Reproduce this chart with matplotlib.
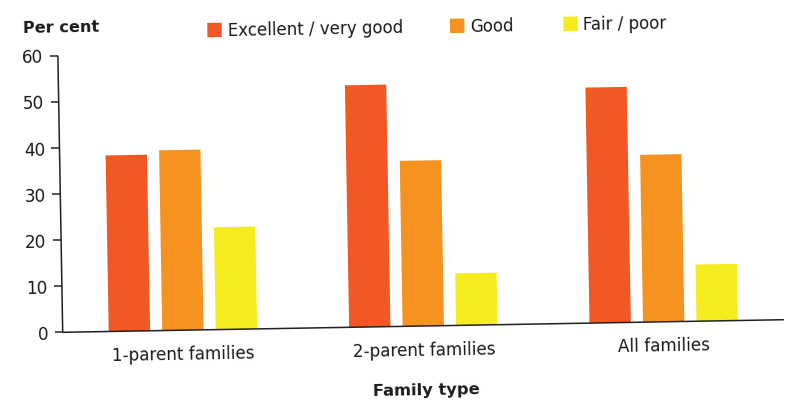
import matplotlib
matplotlib.use("Agg")
import matplotlib.pyplot as plt
from matplotlib.transforms import Affine2D
from matplotlib.patches import Rectangle
from matplotlib.lines import TICKLEFT
import numpy as np

# ---- data -------------------------------------------------------------
categories = ["1-parent families", "2-parent families", "All families"]
series_names = ["Excellent / very good", "Good", "Fair / poor"]
excellent = [38.2, 52.5, 51.1]
good = [39.1, 35.9, 36.3]
fair_poor = [22.2, 11.3, 12.3]
y_ticks = [0, 10, 20, 30, 40, 50, 60]
colors = ["#F15824", "#F6921F", "#F6EB1C"]

plt.rcParams["font.family"] = ["DejaVu Sans"]
text_color = "#1a1a1a"

# ---- figure / plotting frame -------------------------------------------
W, H = 795, 403
fig = plt.figure(figsize=(W / 100, H / 100), dpi=100)
ox, oy = 62.7, 70.7          # origin of the plot frame (display px)
plot_w, plot_h = 721.3, 276.6
tilt = 1.0                   # the whole chart sits slightly tilted

ax = fig.add_axes([ox / W, oy / H, plot_w / W, plot_h / H])
ax.set_xlim(0, 3)
ax.set_ylim(0, 60)
ax.axis("off")

rot = Affine2D().rotate_deg_around(ox, oy, tilt)
data_tf = ax.transData + rot


def shifted(dx, dy):
    """Data coordinates, nudged by (dx, dy) pixels, then tilted."""
    return ax.transData + Affine2D().translate(dx, dy) + rot


# ---- bars ---------------------------------------------------------------
x = np.arange(len(categories)) + 0.5
bar_w = 0.172
step = 0.2226
for i, (vals, col) in enumerate(zip([excellent, good, fair_poor], colors)):
    bars = ax.bar(x + (i - 1) * step, vals, bar_w, color=col,
                  linewidth=0, clip_on=False)
    for b in bars:
        b.set_transform(data_tf)

# ---- axes lines and ticks -------------------------------------------------
axis_kw = dict(color="#222222", lw=1.1, clip_on=False, solid_capstyle="butt")
ax.plot([0, 0], [0, 60], transform=data_tf, **axis_kw)
ax.plot([0, 3], [0, 0], transform=data_tf, **axis_kw)
ax.plot(np.zeros(len(y_ticks)), y_ticks, linestyle="none", marker=TICKLEFT,
        markersize=5.5, markeredgewidth=1.1, color="#222222",
        transform=data_tf, clip_on=False)

for t in y_ticks:
    ax.text(0, t, str(t), transform=shifted(-14.5, 0), ha="right",
            va="center_baseline", fontsize=12.2, color=text_color,
            rotation=tilt, rotation_mode="anchor")

for xc, cat in zip(x, categories):
    ax.text(xc, 0, cat, transform=shifted(0, -29.4), ha="center",
            va="baseline", fontsize=12.1, color=text_color,
            rotation=tilt, rotation_mode="anchor")

ax.text(1.5, 0, "Family type", transform=shifted(1.5, -68.7), ha="center",
        va="baseline", fontsize=11.7, fontweight="bold", color=text_color,
        rotation=tilt, rotation_mode="anchor")

ax.text(0, 60, "Per cent", transform=shifted(-34.8, 23.0), ha="left",
        va="baseline", fontsize=11.6, fontweight="bold", color=text_color,
        rotation=tilt, rotation_mode="anchor")

# ---- legend ---------------------------------------------------------------
px_tf = Affine2D().translate(ox, oy) + rot
legend_sq_u = [157.1, 399.8, 513.2]
legend_txt_u = [170.2, 412.5, 525.9]
sq = 14.4
for su, tu, name, col in zip(legend_sq_u, legend_txt_u, series_names, colors):
    ax.add_patch(Rectangle((su - sq / 2, 299.6 - sq / 2), sq, sq,
                           facecolor=col, edgecolor="none",
                           transform=px_tf, clip_on=False))
    ax.text(tu, 293.2, name, transform=px_tf, ha="left", va="baseline",
            fontsize=12, color=text_color, rotation=tilt,
            rotation_mode="anchor")

fig.savefig("out.png", dpi=100, facecolor="white")
